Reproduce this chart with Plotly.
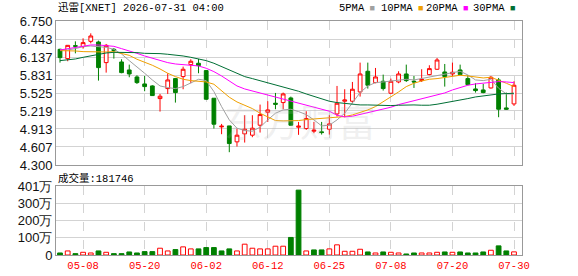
import plotly.graph_objects as go

dates = ["05-05","05-06","05-07","05-08","05-11","05-12","05-13","05-14","05-15","05-18",
         "05-19","05-20","05-21","05-22","05-26","05-27","05-28","05-29","06-01","06-02",
         "06-03","06-04","06-05","06-08","06-09","06-10","06-11","06-12","06-15","06-16",
         "06-17","06-18","06-22","06-23","06-24","06-25","06-26","06-29","06-30","07-01",
         "07-02","07-06","07-07","07-08","07-09","07-10","07-13","07-14","07-15","07-16",
         "07-17","07-20","07-21","07-22","07-23","07-24","07-27","07-28","07-29","07-30"]

open_ = [6.268,6.110,6.331,6.314,6.404,6.393,6.042,6.268,6.053,5.917,
         5.798,5.679,5.645,5.430,5.600,5.770,5.804,6.008,6.031,5.906,
         5.436,4.949,4.965,4.694,4.830,4.807,4.977,5.198,5.351,5.362,
         5.441,4.943,4.920,4.875,4.864,4.909,5.169,5.385,5.385,5.543,
         5.895,5.702,5.725,5.521,5.713,5.849,5.725,5.736,5.838,5.929,
         5.883,5.849,5.917,5.770,5.594,5.577,5.611,5.747,5.271,5.339]
high = [6.280,6.340,6.404,6.455,6.540,6.416,6.359,6.291,6.099,6.008,
        5.827,5.815,5.657,5.509,5.861,5.781,5.974,6.099,6.104,5.917,
        5.436,4.999,4.965,4.920,5.147,5.147,5.328,5.385,5.526,5.532,
        5.464,5.033,5.215,5.033,5.033,5.147,5.645,5.589,5.713,6.042,
        6.042,5.951,5.838,5.770,5.895,6.008,5.815,5.929,5.997,6.121,
        6.019,6.042,6.008,5.827,5.691,5.679,5.815,5.781,5.532,5.725]
low = [6.042,6.065,6.200,6.280,6.370,5.736,5.872,6.110,5.861,5.793,
       5.679,5.555,5.475,5.209,5.509,5.362,5.589,5.691,5.861,5.407,
       4.920,4.824,4.518,4.614,4.682,4.773,4.852,5.033,5.249,5.249,
       4.971,4.813,4.897,4.841,4.818,4.818,5.124,5.113,5.351,5.464,
       5.600,5.691,5.566,5.509,5.691,5.713,5.611,5.713,5.827,5.917,
       5.634,5.815,5.827,5.657,5.532,5.521,5.600,5.113,5.237,5.305]
close = [6.127,6.336,6.320,6.382,6.495,5.957,6.336,6.246,5.872,5.849,
         5.702,5.634,5.481,5.470,5.747,5.532,5.929,6.065,5.991,5.419,
         4.994,4.960,4.665,4.807,4.909,4.926,5.158,5.237,5.334,5.509,
         4.977,4.960,5.090,4.892,4.852,4.999,5.351,5.407,5.589,5.849,
         5.657,5.798,5.600,5.725,5.849,5.736,5.713,5.759,5.940,6.087,
         5.804,5.878,5.838,5.668,5.566,5.532,5.793,5.249,5.249,5.657]

ma5 = [6.268,6.257,6.280,6.314,6.325,6.314,6.302,6.268,6.189,6.076,
       5.974,5.861,5.747,5.645,5.617,5.600,5.634,5.702,5.759,5.736,
       5.549,5.294,5.067,4.926,4.886,4.875,4.943,5.067,5.181,5.237,
       5.249,5.209,5.158,5.067,4.966,4.977,5.067,5.181,5.351,5.532,
       5.645,5.702,5.713,5.725,5.747,5.759,5.747,5.770,5.793,5.827,
       5.849,5.872,5.895,5.832,5.747,5.736,5.759,5.606,5.509,5.509]
ma10 = [6.246,6.246,6.240,6.229,6.223,6.217,6.223,6.229,6.200,6.166,
        6.099,6.053,5.997,5.934,5.861,5.804,5.759,5.736,5.725,5.713,
        5.674,5.566,5.453,5.373,5.317,5.260,5.181,5.113,5.056,5.050,
        5.050,5.056,5.073,5.084,5.090,5.096,5.113,5.124,5.152,5.192,
        5.237,5.294,5.373,5.453,5.543,5.634,5.691,5.730,5.759,5.770,
        5.787,5.804,5.827,5.815,5.793,5.781,5.793,5.747,5.691,5.634]
ma20 = [6.257,6.280,6.302,6.331,6.342,6.342,6.336,6.319,6.280,6.246,
        6.200,6.155,6.116,6.076,6.042,6.019,6.008,6.002,5.985,5.946,
        5.889,5.815,5.736,5.645,5.594,5.560,5.521,5.487,5.458,5.430,
        5.390,5.351,5.317,5.283,5.254,5.215,5.147,5.118,5.130,5.158,
        5.186,5.215,5.249,5.283,5.328,5.362,5.396,5.424,5.458,5.492,
        5.526,5.577,5.623,5.657,5.679,5.696,5.713,5.719,5.713,5.702]
ma30 = [6.076,6.087,6.104,6.132,6.161,6.189,6.206,6.217,6.217,6.217,
        6.212,6.200,6.200,6.195,6.184,6.172,6.155,6.132,6.110,6.076,
        6.031,5.974,5.917,5.861,5.804,5.770,5.736,5.702,5.668,5.634,
        5.600,5.555,5.509,5.464,5.419,5.385,5.362,5.345,5.328,5.322,
        5.322,5.317,5.311,5.311,5.317,5.322,5.322,5.317,5.317,5.334,
        5.356,5.379,5.407,5.430,5.458,5.475,5.498,5.509,5.515,5.521]

volume = [118000,236000,79000,157000,118000,236000,157000,79000,79000,177000,
          118000,197000,197000,393000,236000,315000,472000,354000,354000,432000,
          432000,236000,354000,236000,629000,393000,354000,354000,511000,511000,
          1020000,3770000,236000,295000,295000,354000,590000,216000,216000,334000,
          177000,118000,177000,157000,118000,59000,118000,118000,118000,157000,
          177000,157000,177000,118000,118000,177000,275000,530000,236000,181746]
vol_dir = [-1,1,-1,1,1,-1,1,-1,-1,-1,
           -1,-1,-1,1,1,-1,1,1,-1,-1,
           -1,-1,-1,1,1,1,1,1,1,1,
           -1,-1,1,-1,-1,1,1,1,1,1,
           -1,1,-1,1,1,-1,-1,1,1,1,
           -1,1,-1,-1,-1,-1,1,-1,-1,1]

price_ticks = ["4.300","4.607","4.913","5.219","5.525","5.831","6.137","6.443","6.750"]
vol_ticks = [0, 1000000, 2000000, 3000000, 4010000]
vol_tick_text = ["0", "100万", "200万", "300万", "401万"]
x_tick_dates = ["05-08","05-20","06-02","06-12","06-25","07-08","07-20","07-30"]

title_text = "迅雷[XNET] 2026-07-31 04:00"
vol_label = "成交量:181746"
ma_names = ["5PMA", "10PMA", "20PMA", "30PMA"]

RED = "#ff0000"
GREEN = "#008000"
MA_COLORS = ["#a0a0a0", "#f0a000", "#ff00ff", "#006f35"]
MONO = "Liberation Mono, Noto Sans CJK SC, monospace"
SANS = "Liberation Sans, Arial, sans-serif"

fig = go.Figure()

for vals, col in zip([ma5, ma10, ma20, ma30], MA_COLORS):
    fig.add_trace(go.Scatter(x=dates, y=vals, mode="lines", line=dict(color=col, width=1),
                             xaxis="x", yaxis="y", showlegend=False, hoverinfo="skip"))

fig.add_trace(go.Candlestick(
    x=dates, open=open_, high=high, low=low, close=close,
    increasing=dict(line=dict(color=RED, width=1), fillcolor="#ffffff"),
    decreasing=dict(line=dict(color=GREEN, width=1), fillcolor=GREEN),
    whiskerwidth=0, xaxis="x", yaxis="y", showlegend=False))

fig.add_trace(go.Bar(
    x=dates, y=volume, width=0.62,
    marker=dict(color=["#ffffff" if d > 0 else GREEN for d in vol_dir],
                line=dict(color=[RED if d > 0 else GREEN for d in vol_dir], width=1)),
    xaxis="x2", yaxis="y2", showlegend=False))

grid = "#d3d3d3"
border = "#999999"
xr = [-0.52, 60.04]

fig.update_layout(
    width=578, height=276,
    margin=dict(l=56, r=56, t=21, b=21, autoexpand=False),
    paper_bgcolor="white", plot_bgcolor="white",
    bargap=0.3,
    xaxis=dict(domain=[0, 1], anchor="y", type="category", categoryorder="array",
               categoryarray=dates, range=xr, tickvals=x_tick_dates, showticklabels=False,
               showgrid=True, gridcolor=grid, griddash="dash", gridwidth=1,
               showline=True, mirror=True, linecolor=border, linewidth=1, automargin=False,
               zeroline=False, ticks="", rangeslider=dict(visible=False)),
    yaxis=dict(domain=[0.3846, 1], anchor="x", range=[4.3, 6.75],
               tickvals=[float(t) for t in price_ticks], ticktext=price_ticks,
               showgrid=True, gridcolor=grid, gridwidth=1, zeroline=False, automargin=False,
               showline=True, mirror=True, linecolor=border, linewidth=1, ticks="",
               tickfont=dict(family=SANS, size=13, color="#111")),
    xaxis2=dict(domain=[0, 1], anchor="y2", type="category", categoryorder="array",
                categoryarray=dates, range=xr, tickvals=x_tick_dates, ticktext=x_tick_dates,
                showgrid=True, gridcolor=grid, griddash="dash", gridwidth=1,
                showline=True, mirror=True, linecolor=border, linewidth=1, automargin=False,
                zeroline=False, ticks="", tickangle=0,
                tickfont=dict(family=MONO, size=10.5, color=RED)),
    yaxis2=dict(domain=[0, 0.2949], anchor="x2", range=[0, 4010000],
                tickvals=vol_ticks, ticktext=vol_tick_text, automargin=False,
                showgrid=True, gridcolor=grid, gridwidth=1, zeroline=False,
                showline=True, mirror=True, linecolor=border, linewidth=1, ticks="",
                tickfont=dict(family=SANS, size=13, color="#111")),
)

H = 234.0
W = 466.0
def px(x):
    return (x - 56) / W
def py(y):
    return (255 - y) / H

ann = []
ann.append(dict(text="东方财富", x=px(300), y=py(90), xref="paper", yref="paper",
                showarrow=False, font=dict(family="Noto Sans CJK SC", size=38,
                                           color="rgba(180,180,180,0.2)")))
ann.append(dict(text=title_text, x=px(56), y=py(8), xref="paper", yref="paper",
                xanchor="left", yanchor="middle", showarrow=False,
                font=dict(family=MONO, size=10.5, color="#000")))
ann.append(dict(text=vol_label, x=px(56), y=py(178), xref="paper", yref="paper",
                xanchor="left", yanchor="middle", showarrow=False,
                font=dict(family=MONO, size=10.5, color="#000")))
for name, col, xpos in zip(ma_names, MA_COLORS, [337, 379, 424, 471]):
    ann.append(dict(text=name + "<span style='color:%s;font-size:9px'> ■</span>" % col,
                    x=px(xpos), y=py(8), xref="paper", yref="paper",
                    xanchor="left", yanchor="middle", showarrow=False,
                    font=dict(family=MONO, size=10.5, color="#000")))
fig.update_layout(annotations=ann)

fig.write_html("out.html")
